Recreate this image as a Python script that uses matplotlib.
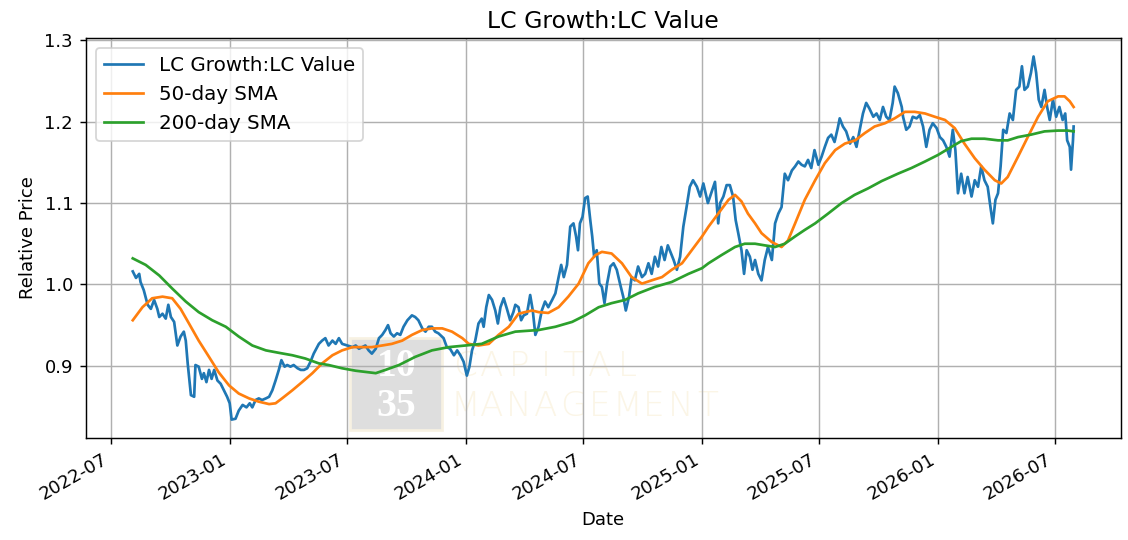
import pandas as pd
import matplotlib
matplotlib.use("Agg")
import matplotlib.pyplot as plt
import matplotlib.dates as mdates
from matplotlib.patches import Rectangle

# all dates are given as days after this one
start = pd.Timestamp("2022-07-01")

# LC Growth : LC Value ratio
ratio_days = [34, 39, 44, 46, 51, 57, 62, 67, 72, 75, 80, 85, 89, 93, 98, 103, 108, 113, 116, 119,
              124, 129, 131, 136, 141, 144, 148, 152, 156, 160, 165, 170, 175, 180, 184, 187, 193, 198, 204, 210,
              215, 219, 224, 229, 234, 240, 245, 250, 255, 260, 264, 269, 273, 278, 283, 289, 294, 299, 304, 309,
              314, 322, 327, 332, 337, 343, 348, 353, 358, 366, 374, 379, 384, 389, 394, 399, 404, 410, 415, 420,
              425, 429, 433, 438, 443, 448, 453, 459, 466, 471, 476, 482, 487, 492, 497, 502, 507, 515, 520, 525,
              531, 536, 541, 546, 551, 555, 559, 564, 569, 574, 577, 581, 585, 590, 595, 599, 603, 608, 613, 618,
              623, 626, 631, 635, 639, 644, 649, 653, 657, 662, 667, 672, 677, 683, 688, 693, 697, 701, 706, 711,
              716, 720, 723, 726, 730, 734, 738, 742, 745, 748, 752, 756, 760, 764, 768, 773, 778, 783, 788, 793,
              797, 802, 806, 811, 816, 822, 827, 832, 837, 842, 847, 852, 857, 862, 865, 871, 876, 881, 886, 891,
              896, 901, 907, 912, 917, 924, 929, 935, 940, 943, 948, 953, 958, 963, 967, 971, 976, 980, 984, 989,
              993, 997, 1002, 1007, 1012, 1017, 1023, 1028, 1033, 1038, 1043, 1048, 1054, 1059, 1064, 1069, 1074, 1079, 1084, 1089,
              1095, 1100, 1105, 1110, 1115, 1120, 1125, 1128, 1133, 1138, 1144, 1149, 1154, 1159, 1164, 1169, 1174, 1180, 1185, 1190,
              1195, 1200, 1205, 1210, 1213, 1218, 1224, 1226, 1231, 1236, 1241, 1247, 1252, 1257, 1262, 1267, 1272, 1278, 1283, 1288,
              1293, 1298, 1303, 1307, 1311, 1316, 1321, 1326, 1332, 1337, 1342, 1347, 1352, 1357, 1362, 1365, 1369, 1373, 1377, 1381,
              1386, 1391, 1396, 1401, 1406, 1410, 1414, 1419, 1424, 1428, 1432, 1436, 1440, 1445, 1449, 1453, 1458, 1463, 1468, 1473,
              1477, 1480, 1484, 1486, 1489, 1490]
ratio_vals = [1.016, 1.008, 1.013, 1.003, 0.993, 0.975, 0.970, 0.981, 0.970, 0.960, 0.964, 0.958, 0.975, 0.960, 0.954, 0.925, 0.936, 0.942, 0.931, 0.903,
              0.864, 0.862, 0.901, 0.899, 0.884, 0.891, 0.880, 0.895, 0.884, 0.895, 0.882, 0.878, 0.870, 0.862, 0.854, 0.834, 0.835, 0.845, 0.852, 0.849,
              0.854, 0.849, 0.858, 0.860, 0.858, 0.860, 0.862, 0.870, 0.882, 0.895, 0.907, 0.899, 0.901, 0.899, 0.901, 0.897, 0.895, 0.895, 0.897, 0.905,
              0.915, 0.927, 0.931, 0.934, 0.925, 0.931, 0.927, 0.934, 0.927, 0.925, 0.923, 0.925, 0.921, 0.923, 0.925, 0.919, 0.915, 0.921, 0.934, 0.938,
              0.944, 0.950, 0.940, 0.936, 0.940, 0.938, 0.948, 0.956, 0.962, 0.960, 0.956, 0.946, 0.942, 0.948, 0.948, 0.942, 0.940, 0.934, 0.923, 0.921,
              0.913, 0.919, 0.913, 0.905, 0.888, 0.899, 0.919, 0.931, 0.952, 0.958, 0.948, 0.972, 0.987, 0.981, 0.968, 0.952, 0.972, 0.983, 0.970, 0.956,
              0.966, 0.975, 0.972, 0.956, 0.962, 0.964, 0.987, 0.968, 0.938, 0.948, 0.968, 0.979, 0.972, 0.981, 0.989, 1.009, 1.024, 1.009, 1.024, 1.071,
              1.075, 1.059, 1.042, 1.075, 1.083, 1.106, 1.108, 1.079, 1.059, 1.034, 1.042, 1.001, 0.997, 0.977, 1.001, 1.022, 1.026, 1.018, 1.001, 0.985,
              0.968, 0.985, 1.009, 1.005, 1.022, 1.009, 1.013, 1.026, 1.013, 1.034, 1.022, 1.046, 1.030, 1.048, 1.042, 1.030, 1.018, 1.034, 1.071, 1.095,
              1.120, 1.128, 1.120, 1.108, 1.124, 1.100, 1.112, 1.126, 1.075, 1.100, 1.108, 1.122, 1.122, 1.108, 1.079, 1.063, 1.042, 1.013, 1.042, 1.034,
              1.018, 1.030, 1.013, 1.005, 1.030, 1.046, 1.030, 1.075, 1.087, 1.095, 1.136, 1.128, 1.140, 1.145, 1.151, 1.147, 1.145, 1.153, 1.143, 1.165,
              1.147, 1.157, 1.169, 1.180, 1.184, 1.175, 1.192, 1.204, 1.194, 1.188, 1.173, 1.181, 1.169, 1.190, 1.210, 1.223, 1.216, 1.206, 1.210, 1.202,
              1.218, 1.206, 1.202, 1.223, 1.243, 1.235, 1.218, 1.206, 1.190, 1.194, 1.206, 1.204, 1.208, 1.194, 1.169, 1.190, 1.198, 1.192, 1.181, 1.177,
              1.169, 1.157, 1.190, 1.165, 1.112, 1.136, 1.112, 1.132, 1.108, 1.128, 1.120, 1.145, 1.128, 1.120, 1.091, 1.075, 1.104, 1.112, 1.145, 1.190,
              1.186, 1.210, 1.202, 1.239, 1.243, 1.268, 1.239, 1.243, 1.260, 1.280, 1.260, 1.227, 1.218, 1.239, 1.218, 1.202, 1.227, 1.206, 1.218, 1.202,
              1.210, 1.177, 1.169, 1.141, 1.177, 1.194]

# 50-day simple moving average
sma50_days = [34, 49, 64, 80, 95, 108, 121, 136, 152, 167, 183, 198, 214, 229, 245, 255, 265, 281, 296, 312,
              327, 343, 358, 374, 389, 404, 420, 435, 451, 466, 482, 497, 513, 528, 544, 554, 569, 585, 600, 616,
              631, 641, 652, 662, 677, 693, 708, 724, 739, 750, 760, 775, 791, 806, 822, 837, 853, 868, 884, 899,
              915, 925, 940, 956, 966, 976, 986, 997, 1007, 1023, 1038, 1048, 1059, 1074, 1090, 1105, 1121, 1136, 1152, 1167,
              1182, 1198, 1213, 1229, 1244, 1260, 1275, 1291, 1306, 1321, 1337, 1352, 1368, 1378, 1388, 1404, 1419, 1435, 1450, 1466,
              1476, 1484, 1490]
sma50_vals = [0.956, 0.972, 0.983, 0.985, 0.983, 0.970, 0.952, 0.931, 0.911, 0.892, 0.876, 0.866, 0.860, 0.856, 0.853, 0.854, 0.860, 0.870, 0.880, 0.891,
              0.903, 0.913, 0.919, 0.923, 0.923, 0.923, 0.925, 0.927, 0.931, 0.938, 0.944, 0.946, 0.946, 0.942, 0.934, 0.927, 0.925, 0.927, 0.938, 0.948,
              0.964, 0.966, 0.968, 0.966, 0.965, 0.972, 0.985, 1.001, 1.026, 1.036, 1.040, 1.038, 1.026, 1.009, 1.001, 1.005, 1.009, 1.018, 1.026, 1.042,
              1.059, 1.071, 1.087, 1.104, 1.110, 1.102, 1.087, 1.075, 1.063, 1.052, 1.046, 1.054, 1.075, 1.104, 1.128, 1.149, 1.165, 1.173, 1.177, 1.186,
              1.194, 1.198, 1.204, 1.212, 1.212, 1.210, 1.206, 1.202, 1.192, 1.173, 1.155, 1.141, 1.128, 1.124, 1.132, 1.157, 1.181, 1.206, 1.225, 1.231,
              1.231, 1.225, 1.218]

# 200-day simple moving average
sma200_days = [34, 54, 75, 95, 116, 136, 157, 178, 198, 219, 240, 260, 281, 301, 322, 337, 358, 379, 410, 425,
               446, 471, 497, 523, 549, 574, 600, 626, 662, 688, 714, 734, 755, 775, 796, 816, 842, 868, 894, 915,
               925, 945, 966, 981, 997, 1012, 1028, 1043, 1059, 1074, 1090, 1110, 1131, 1151, 1172, 1193, 1218, 1239, 1260, 1280,
               1301, 1316, 1332, 1352, 1373, 1388, 1404, 1424, 1445, 1466, 1481, 1490]
sma200_vals = [1.032, 1.024, 1.011, 0.995, 0.979, 0.966, 0.956, 0.948, 0.936, 0.925, 0.919, 0.916, 0.913, 0.909, 0.903, 0.901, 0.897, 0.894, 0.891, 0.895,
               0.901, 0.911, 0.919, 0.923, 0.925, 0.927, 0.936, 0.942, 0.944, 0.948, 0.954, 0.962, 0.972, 0.977, 0.981, 0.989, 0.997, 1.003, 1.013, 1.020,
               1.026, 1.036, 1.046, 1.050, 1.050, 1.048, 1.046, 1.050, 1.059, 1.067, 1.075, 1.087, 1.100, 1.110, 1.118, 1.127, 1.136, 1.143, 1.151, 1.159,
               1.169, 1.176, 1.179, 1.179, 1.177, 1.177, 1.181, 1.184, 1.188, 1.189, 1.189, 1.188]


def to_dates(days):
    return start + pd.to_timedelta(days, unit="D")


fig, ax = plt.subplots(figsize=(1128 / 130, 540 / 130), dpi=130)

ax.plot(to_dates(ratio_days), ratio_vals, label="LC Growth:LC Value")
ax.plot(to_dates(sma50_days), sma50_vals, label="50-day SMA")
ax.plot(to_dates(sma200_days), sma200_vals, label="200-day SMA")

ax.xaxis.set_major_locator(mdates.MonthLocator(bymonth=[1, 7]))
ax.xaxis.set_major_formatter(mdates.DateFormatter("%Y-%m"))
ax.set_title("LC Growth:LC Value", fontsize=13)
ax.set_xlabel("Date")
ax.set_ylabel("Relative Price")
ax.grid(True)
ax.legend(loc="upper left", fontsize=11)
fig.autofmt_xdate()

# faint company logo in the middle of the plot
ax.add_patch(Rectangle((0.310, 0.204), 0.082, 0.170, transform=fig.transFigure,
                       facecolor="#dedede", edgecolor="#f7f1e2", lw=1.5, zorder=1))
for word, y in [("10", 0.321), ("35", 0.247)]:
    ax.text(0.3517, y, word, transform=fig.transFigure, ha="center", va="center",
            family="Liberation Serif", weight="bold", fontsize=22, color="white", zorder=1.1)
for word, y in [("CAPITAL", 0.321), ("MANAGEMENT", 0.247)]:
    for i, letter in enumerate(word):
        ax.text((465 + 27 * i) / 1128, y, letter, transform=fig.transFigure,
                ha="center", va="center", family="DejaVu Sans", weight="light",
                fontsize=19, color="#fbf5e6", zorder=1.1)

fig.subplots_adjust(left=0.076, right=0.9935, top=0.929, bottom=0.1894)
fig.savefig("out.png", dpi=130)
